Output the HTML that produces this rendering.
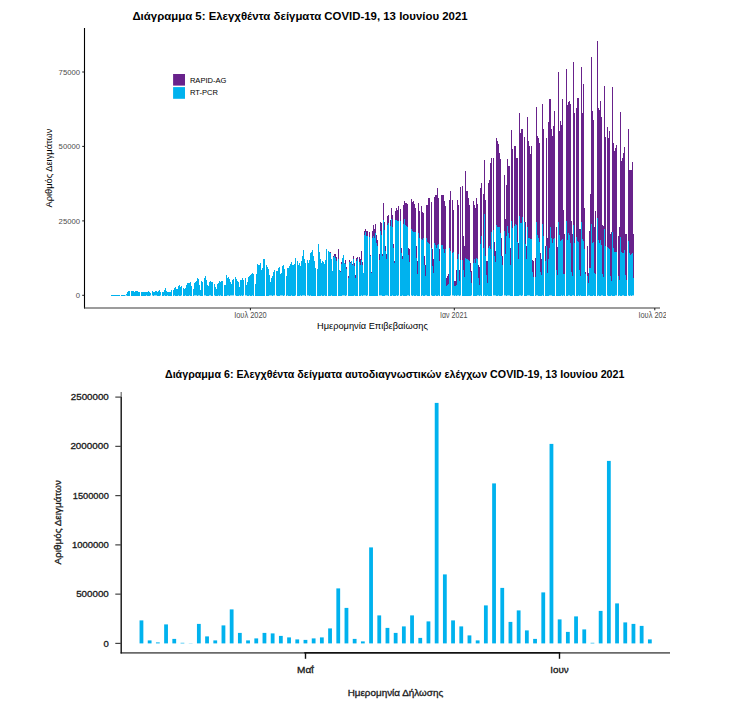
<!DOCTYPE html>
<html><head><meta charset="utf-8"><title>chart</title><style>html,body{margin:0;padding:0;background:#fff}svg{display:block}</style></head><body>
<svg width="737" height="710" viewBox="0 0 737 710">
<rect width="737" height="710" fill="#fff"/>
<text x="300" y="20.2" text-anchor="middle" font-size="11.42" font-weight="700" fill="#000" font-family="Liberation Sans, sans-serif">Διάγραμμα 5: Ελεγχθέντα δείγματα COVID-19, 13 Ιουνίου 2021</text>
<g shape-rendering="crispEdges"><path d="M111 295h1V296h-1zM112 295h1V296h-1zM113 295h1V296h-1zM114 295h1V296h-1zM115 295h1V296h-1zM116 295h1V296h-1zM117 295h1V296h-1zM118 295h1V296h-1zM119 295h1V296h-1zM121 295h1V296h-1zM122 295h1V296h-1zM123 295h1V296h-1zM124 295h1V296h-1zM125 295h1V296h-1zM126 294h1V296h-1zM127 292h1V296h-1zM128 291h1V296h-1zM129 291h1V296h-1zM131 291h1V296h-1zM132 291h1V296h-1zM133 291h1V296h-1zM134 292h1V296h-1zM135 291h1V296h-1zM136 291h1V296h-1zM137 291h1V296h-1zM138 292h1V296h-1zM139 292h1V296h-1zM141 292h1V296h-1zM142 292h1V296h-1zM143 292h1V296h-1zM144 292h1V296h-1zM145 292h1V296h-1zM146 292h1V296h-1zM147 292h1V296h-1zM148 291h1V296h-1zM149 292h1V296h-1zM150 293h1V296h-1zM152 291h1V296h-1zM153 292h1V296h-1zM154 292h1V296h-1zM155 291h1V296h-1zM156 291h1V296h-1zM157 292h1V296h-1zM158 291h1V296h-1zM159 290h1V296h-1zM160 292h1V296h-1zM162 292h1V296h-1zM163 292h1V296h-1zM164 290h1V296h-1zM165 288h1V296h-1zM166 291h1V296h-1zM167 292h1V296h-1zM168 292h1V296h-1zM169 292h1V296h-1zM170 292h1V296h-1zM171 290h1V296h-1zM173 290h1V296h-1zM174 288h1V296h-1zM175 287h1V296h-1zM176 289h1V296h-1zM177 289h1V296h-1zM178 286h1V296h-1zM179 285h1V296h-1zM180 287h1V296h-1zM181 286h1V296h-1zM183 288h1V296h-1zM184 289h1V296h-1zM185 288h1V296h-1zM186 285h1V296h-1zM187 283h1V296h-1zM188 283h1V296h-1zM189 283h1V296h-1zM190 282h1V296h-1zM191 286h1V296h-1zM193 289h1V296h-1zM194 283h1V296h-1zM195 282h1V296h-1zM196 281h1V296h-1zM197 278h1V296h-1zM198 279h1V296h-1zM199 285h1V296h-1zM200 290h1V296h-1zM201 281h1V296h-1zM202 282h1V296h-1zM204 278h1V296h-1zM205 276h1V296h-1zM206 280h1V296h-1zM207 285h1V296h-1zM208 286h1V296h-1zM209 282h1V296h-1zM210 281h1V296h-1zM211 282h1V296h-1zM212 282h1V296h-1zM214 284h1V296h-1zM215 287h1V296h-1zM216 289h1V296h-1zM217 284h1V296h-1zM218 283h1V296h-1zM219 281h1V296h-1zM220 282h1V296h-1zM221 281h1V296h-1zM222 281h1V296h-1zM224 285h1V296h-1zM225 285h1V296h-1zM226 275h1V296h-1zM227 278h1V296h-1zM228 277h1V296h-1zM229 279h1V296h-1zM230 282h1V296h-1zM231 284h1V296h-1zM232 280h1V296h-1zM233 279h1V296h-1zM235 277h1V296h-1zM236 279h1V296h-1zM237 281h1V296h-1zM238 282h1V296h-1zM239 287h1V296h-1zM240 280h1V296h-1zM241 280h1V296h-1zM242 278h1V296h-1zM243 280h1V296h-1zM245 278h1V296h-1zM246 285h1V296h-1zM247 282h1V296h-1zM248 277h1V296h-1zM249 276h1V296h-1zM250 275h1V296h-1zM251 274h1V296h-1zM252 273h1V296h-1zM253 274h1V296h-1zM255 284h1V296h-1zM256 274h1V296h-1zM257 264h1V296h-1zM258 265h1V296h-1zM259 265h1V296h-1zM260 263h1V296h-1zM261 270h1V296h-1zM262 268h1V296h-1zM263 259h1V296h-1zM264 259h1V296h-1zM266 265h1V296h-1zM267 267h1V296h-1zM268 269h1V296h-1zM269 275h1V296h-1zM270 282h1V296h-1zM271 278h1V296h-1zM272 276h1V296h-1zM273 272h1V296h-1zM274 270h1V296h-1zM276 271h1V296h-1zM277 271h1V296h-1zM278 268h1V296h-1zM279 267h1V296h-1zM280 274h1V296h-1zM281 273h1V296h-1zM282 266h1V296h-1zM283 265h1V296h-1zM284 269h1V296h-1zM286 276h1V296h-1zM287 268h1V296h-1zM288 268h1V296h-1zM289 266h1V296h-1zM290 264h1V296h-1zM291 262h1V296h-1zM292 265h1V296h-1zM293 265h1V296h-1zM294 264h1V296h-1zM295 258h1V296h-1zM297 261h1V296h-1zM298 265h1V296h-1zM299 263h1V296h-1zM300 266h1V296h-1zM301 261h1V296h-1zM302 256h1V296h-1zM303 250h1V296h-1zM304 259h1V296h-1zM305 263h1V296h-1zM307 260h1V296h-1zM308 263h1V296h-1zM309 260h1V296h-1zM310 253h1V296h-1zM311 252h1V296h-1zM312 250h1V296h-1zM313 256h1V296h-1zM314 261h1V296h-1zM315 268h1V296h-1zM317 269h1V296h-1zM318 244h1V296h-1zM319 252h1V296h-1zM320 259h1V296h-1zM321 263h1V296h-1zM322 261h1V296h-1zM323 262h1V296h-1zM324 264h1V296h-1zM325 260h1V296h-1zM326 249h1V296h-1zM328 251h1V296h-1zM329 252h1V296h-1zM330 253h1V296h-1zM331 259h1V296h-1zM332 271h1V296h-1zM333 257h1V296h-1zM334 256h1V296h-1zM335 258h1V296h-1zM336 261h1V296h-1zM338 259h1V296h-1zM339 270h1V296h-1zM340 272h1V296h-1zM341 264h1V296h-1zM342 258h1V296h-1zM343 255h1V296h-1zM344 263h1V296h-1zM345 264h1V296h-1zM346 269h1V296h-1zM348 278h1V296h-1zM349 262h1V296h-1zM350 263h1V296h-1zM351 261h1V296h-1zM352 265h1V296h-1zM353 259h1V296h-1zM354 266h1V296h-1zM355 278h1V296h-1zM356 261h1V296h-1zM357 259h1V296h-1zM359 262h1V296h-1zM360 265h1V296h-1zM361 260h1V296h-1zM362 265h1V296h-1zM363 273h1V296h-1zM364 235h1V296h-1zM365 232h1V296h-1zM366 236h1V296h-1zM367 236h1V296h-1zM369 237h1V296h-1zM370 256h1V296h-1zM371 273h1V296h-1zM372 238h1V296h-1zM373 236h1V296h-1zM374 238h1V296h-1zM375 233h1V296h-1zM376 243h1V296h-1zM377 246h1V296h-1zM379 260h1V296h-1zM380 231h1V296h-1zM381 235h1V296h-1zM382 256h1V296h-1zM383 220h1V296h-1zM384 230h1V296h-1zM385 251h1V296h-1zM386 259h1V296h-1zM387 225h1V296h-1zM388 223h1V296h-1zM390 226h1V296h-1zM391 219h1V296h-1zM392 227h1V296h-1zM393 248h1V296h-1zM394 263h1V296h-1zM395 220h1V296h-1zM396 220h1V296h-1zM397 221h1V296h-1zM398 221h1V296h-1zM400 221h1V296h-1zM401 253h1V296h-1zM402 259h1V296h-1zM403 224h1V296h-1zM404 219h1V296h-1zM405 225h1V296h-1zM406 226h1V296h-1zM407 227h1V296h-1zM408 255h1V296h-1zM409 262h1V296h-1zM411 229h1V296h-1zM412 231h1V296h-1zM413 232h1V296h-1zM414 232h1V296h-1zM415 232h1V296h-1zM416 258h1V296h-1zM417 274h1V296h-1zM418 233h1V296h-1zM419 238h1V296h-1zM421 239h1V296h-1zM422 240h1V296h-1zM423 238h1V296h-1zM424 265h1V296h-1zM425 276h1V296h-1zM426 238h1V296h-1zM427 242h1V296h-1zM428 243h1V296h-1zM429 244h1V296h-1zM431 248h1V296h-1zM432 266h1V296h-1zM433 273h1V296h-1zM434 243h1V296h-1zM435 245h1V296h-1zM436 248h1V296h-1zM437 245h1V296h-1zM438 244h1V296h-1zM439 261h1V296h-1zM441 245h1V296h-1zM442 245h1V296h-1zM443 249h1V296h-1zM444 253h1V296h-1zM445 249h1V296h-1zM446 286h1V296h-1zM447 285h1V296h-1zM448 284h1V296h-1zM449 248h1V296h-1zM450 251h1V296h-1zM452 253h1V296h-1zM453 252h1V296h-1zM454 286h1V296h-1zM455 286h1V296h-1zM456 285h1V296h-1zM457 259h1V296h-1zM458 254h1V296h-1zM459 281h1V296h-1zM460 260h1V296h-1zM462 260h1V296h-1zM463 270h1V296h-1zM464 277h1V296h-1zM465 258h1V296h-1zM466 259h1V296h-1zM467 259h1V296h-1zM468 260h1V296h-1zM469 261h1V296h-1zM470 272h1V296h-1zM471 283h1V296h-1zM473 263h1V296h-1zM474 259h1V296h-1zM475 263h1V296h-1zM476 258h1V296h-1zM477 259h1V296h-1zM478 278h1V296h-1zM479 285h1V296h-1zM480 244h1V296h-1zM481 236h1V296h-1zM483 248h1V296h-1zM484 214h1V296h-1zM485 256h1V296h-1zM486 275h1V296h-1zM487 283h1V296h-1zM488 248h1V296h-1zM489 246h1V296h-1zM490 249h1V296h-1zM491 232h1V296h-1zM493 230h1V296h-1zM494 256h1V296h-1zM495 262h1V296h-1zM496 225h1V296h-1zM497 227h1V296h-1zM498 227h1V296h-1zM499 227h1V296h-1zM500 233h1V296h-1zM501 256h1V296h-1zM502 265h1V296h-1zM504 231h1V296h-1zM505 254h1V296h-1zM506 236h1V296h-1zM507 226h1V296h-1zM508 233h1V296h-1zM509 238h1V296h-1zM510 265h1V296h-1zM511 221h1V296h-1zM512 228h1V296h-1zM514 226h1V296h-1zM515 224h1V296h-1zM516 225h1V296h-1zM517 242h1V296h-1zM518 259h1V296h-1zM519 216h1V296h-1zM520 223h1V296h-1zM521 223h1V296h-1zM522 217h1V296h-1zM524 222h1V296h-1zM525 244h1V296h-1zM526 259h1V296h-1zM527 227h1V296h-1zM528 238h1V296h-1zM529 238h1V296h-1zM530 239h1V296h-1zM531 239h1V296h-1zM532 272h1V296h-1zM533 277h1V296h-1zM535 277h1V296h-1zM536 222h1V296h-1zM537 235h1V296h-1zM538 238h1V296h-1zM539 242h1V296h-1zM540 272h1V296h-1zM541 275h1V296h-1zM542 224h1V296h-1zM543 236h1V296h-1zM545 261h1V296h-1zM546 246h1V296h-1zM547 273h1V296h-1zM548 259h1V296h-1zM549 248h1V296h-1zM550 227h1V296h-1zM551 238h1V296h-1zM552 243h1V296h-1zM553 239h1V296h-1zM554 238h1V296h-1zM556 270h1V296h-1zM557 275h1V296h-1zM558 222h1V296h-1zM559 235h1V296h-1zM560 241h1V296h-1zM561 240h1V296h-1zM562 239h1V296h-1zM563 274h1V296h-1zM564 274h1V296h-1zM566 221h1V296h-1zM567 240h1V296h-1zM568 233h1V296h-1zM569 235h1V296h-1zM570 243h1V296h-1zM571 272h1V296h-1zM572 276h1V296h-1zM573 225h1V296h-1zM574 243h1V296h-1zM576 237h1V296h-1zM577 241h1V296h-1zM578 242h1V296h-1zM579 270h1V296h-1zM580 276h1V296h-1zM581 222h1V296h-1zM582 239h1V296h-1zM583 241h1V296h-1zM584 249h1V296h-1zM585 274h1V296h-1zM587 276h1V296h-1zM588 283h1V296h-1zM589 268h1V296h-1zM590 268h1V296h-1zM591 224h1V296h-1zM592 243h1V296h-1zM593 242h1V296h-1zM594 273h1V296h-1zM595 274h1V296h-1zM597 218h1V296h-1zM598 240h1V296h-1zM599 243h1V296h-1zM600 240h1V296h-1zM601 245h1V296h-1zM602 274h1V296h-1zM603 277h1V296h-1zM604 229h1V296h-1zM605 246h1V296h-1zM607 247h1V296h-1zM608 248h1V296h-1zM609 249h1V296h-1zM610 276h1V296h-1zM611 281h1V296h-1zM612 232h1V296h-1zM613 248h1V296h-1zM614 252h1V296h-1zM615 252h1V296h-1zM616 252h1V296h-1zM618 276h1V296h-1zM619 280h1V296h-1zM620 237h1V296h-1zM621 252h1V296h-1zM622 253h1V296h-1zM623 253h1V296h-1zM624 250h1V296h-1zM625 275h1V296h-1zM626 280h1V296h-1zM628 241h1V296h-1zM629 253h1V296h-1zM630 255h1V296h-1zM631 254h1V296h-1zM632 253h1V296h-1zM633 278h1V296h-1z" fill="#00B2EE"/><path d="M330 252h1V253h-1zM333 256h1V257h-1zM334 254h1V256h-1zM335 254h1V258h-1zM336 257h1V261h-1zM338 249h1V259h-1zM340 271h1V272h-1zM341 262h1V264h-1zM345 260h1V264h-1zM346 267h1V269h-1zM348 276h1V278h-1zM349 260h1V262h-1zM350 262h1V263h-1zM352 264h1V265h-1zM353 256h1V259h-1zM354 263h1V266h-1zM355 275h1V278h-1zM356 258h1V261h-1zM357 257h1V259h-1zM359 257h1V262h-1zM360 259h1V265h-1zM361 251h1V260h-1zM362 262h1V265h-1zM364 231h1V235h-1zM365 229h1V232h-1zM366 231h1V236h-1zM367 231h1V236h-1zM369 232h1V237h-1zM370 255h1V256h-1zM371 272h1V273h-1zM372 231h1V238h-1zM373 225h1V236h-1zM374 229h1V238h-1zM375 224h1V233h-1zM376 235h1V243h-1zM377 240h1V246h-1zM379 254h1V260h-1zM380 222h1V231h-1zM381 223h1V235h-1zM382 254h1V256h-1zM383 203h1V220h-1zM384 222h1V230h-1zM385 246h1V251h-1zM386 254h1V259h-1zM387 216h1V225h-1zM388 215h1V223h-1zM390 220h1V226h-1zM391 208h1V219h-1zM392 215h1V227h-1zM393 244h1V248h-1zM394 261h1V263h-1zM395 211h1V220h-1zM396 208h1V220h-1zM397 210h1V221h-1zM398 206h1V221h-1zM400 209h1V221h-1zM401 248h1V253h-1zM402 256h1V259h-1zM403 205h1V224h-1zM404 201h1V219h-1zM405 203h1V225h-1zM406 203h1V226h-1zM407 204h1V227h-1zM408 248h1V255h-1zM409 249h1V262h-1zM411 199h1V229h-1zM412 202h1V231h-1zM413 201h1V232h-1zM414 204h1V232h-1zM415 208h1V232h-1zM416 246h1V258h-1zM417 261h1V274h-1zM418 203h1V233h-1zM419 211h1V238h-1zM421 206h1V239h-1zM422 212h1V240h-1zM423 213h1V238h-1zM424 256h1V265h-1zM425 265h1V276h-1zM426 205h1V238h-1zM427 205h1V242h-1zM428 198h1V243h-1zM429 198h1V244h-1zM431 202h1V248h-1zM432 249h1V266h-1zM433 259h1V273h-1zM434 197h1V243h-1zM435 195h1V245h-1zM436 195h1V248h-1zM437 188h1V245h-1zM438 198h1V244h-1zM439 249h1V261h-1zM441 195h1V245h-1zM442 195h1V245h-1zM443 195h1V249h-1zM444 201h1V253h-1zM445 206h1V249h-1zM446 278h1V286h-1zM447 276h1V285h-1zM448 274h1V284h-1zM449 200h1V248h-1zM450 191h1V251h-1zM452 200h1V253h-1zM453 210h1V252h-1zM454 281h1V286h-1zM455 281h1V286h-1zM456 270h1V285h-1zM457 200h1V259h-1zM458 205h1V254h-1zM459 270h1V281h-1zM460 187h1V260h-1zM462 186h1V260h-1zM463 236h1V270h-1zM464 246h1V277h-1zM465 171h1V258h-1zM466 191h1V259h-1zM467 191h1V259h-1zM468 198h1V260h-1zM469 205h1V261h-1zM470 263h1V272h-1zM471 271h1V283h-1zM473 201h1V263h-1zM474 205h1V259h-1zM475 208h1V263h-1zM476 198h1V258h-1zM477 204h1V259h-1zM478 265h1V278h-1zM479 267h1V285h-1zM480 188h1V244h-1zM481 183h1V236h-1zM483 194h1V248h-1zM484 160h1V214h-1zM485 200h1V256h-1zM486 261h1V275h-1zM487 261h1V283h-1zM488 183h1V248h-1zM489 180h1V246h-1zM490 163h1V249h-1zM491 158h1V232h-1zM493 158h1V230h-1zM494 242h1V256h-1zM495 251h1V262h-1zM496 138h1V225h-1zM497 141h1V227h-1zM498 144h1V227h-1zM499 153h1V227h-1zM500 159h1V233h-1zM501 238h1V256h-1zM502 256h1V265h-1zM504 175h1V231h-1zM505 219h1V254h-1zM506 185h1V236h-1zM507 159h1V226h-1zM508 166h1V233h-1zM509 166h1V238h-1zM510 248h1V265h-1zM511 130h1V221h-1zM512 149h1V228h-1zM514 146h1V226h-1zM515 146h1V224h-1zM516 158h1V225h-1zM517 158h1V242h-1zM518 243h1V259h-1zM519 113h1V216h-1zM520 133h1V223h-1zM521 129h1V223h-1zM522 129h1V217h-1zM524 137h1V222h-1zM525 222h1V244h-1zM526 246h1V259h-1zM527 117h1V227h-1zM528 141h1V238h-1zM529 146h1V238h-1zM530 154h1V239h-1zM531 146h1V239h-1zM532 260h1V272h-1zM533 261h1V277h-1zM535 258h1V277h-1zM536 107h1V222h-1zM537 136h1V235h-1zM538 138h1V238h-1zM539 143h1V242h-1zM540 253h1V272h-1zM541 259h1V275h-1zM542 104h1V224h-1zM543 129h1V236h-1zM545 246h1V261h-1zM546 138h1V246h-1zM547 238h1V273h-1zM548 122h1V259h-1zM549 99h1V248h-1zM550 99h1V227h-1zM551 129h1V238h-1zM552 136h1V243h-1zM553 126h1V239h-1zM554 111h1V238h-1zM556 227h1V270h-1zM557 247h1V275h-1zM558 72h1V222h-1zM559 131h1V235h-1zM560 121h1V241h-1zM561 125h1V240h-1zM562 99h1V239h-1zM563 210h1V274h-1zM564 234h1V274h-1zM566 69h1V221h-1zM567 105h1V240h-1zM568 102h1V233h-1zM569 101h1V235h-1zM570 104h1V243h-1zM571 221h1V272h-1zM572 234h1V276h-1zM573 62h1V225h-1zM574 113h1V243h-1zM576 108h1V237h-1zM577 98h1V241h-1zM578 98h1V242h-1zM579 229h1V270h-1zM580 229h1V276h-1zM581 67h1V222h-1zM582 113h1V239h-1zM583 84h1V241h-1zM584 208h1V249h-1zM585 272h1V274h-1zM587 246h1V276h-1zM588 273h1V283h-1zM589 231h1V268h-1zM590 194h1V268h-1zM591 57h1V224h-1zM592 111h1V243h-1zM593 120h1V242h-1zM594 227h1V273h-1zM595 211h1V274h-1zM597 41h1V218h-1zM598 108h1V240h-1zM599 110h1V243h-1zM600 101h1V240h-1zM601 117h1V245h-1zM602 225h1V274h-1zM603 226h1V277h-1zM604 86h1V229h-1zM605 137h1V246h-1zM607 127h1V247h-1zM608 138h1V248h-1zM609 131h1V249h-1zM610 234h1V276h-1zM611 232h1V281h-1zM612 87h1V232h-1zM613 143h1V248h-1zM614 151h1V252h-1zM615 148h1V252h-1zM616 145h1V252h-1zM618 236h1V276h-1zM619 227h1V280h-1zM620 112h1V237h-1zM621 161h1V252h-1zM622 158h1V253h-1zM623 153h1V253h-1zM624 147h1V250h-1zM625 234h1V275h-1zM626 234h1V280h-1zM628 129h1V241h-1zM629 170h1V253h-1zM630 170h1V255h-1zM631 170h1V254h-1zM632 162h1V253h-1zM633 234h1V278h-1z" fill="#68228B"/><path d="M125 295h1v1h-1zM126 295h1v1h-1zM146 295h1v1h-1zM150 295h1v1h-1zM152 295h1v1h-1zM154 295h1v1h-1zM155 295h1v1h-1zM156 295h1v1h-1zM160 295h1v1h-1zM164 295h1v1h-1zM167 295h1v1h-1zM174 295h1v1h-1zM178 295h1v1h-1zM181 295h1v1h-1zM185 295h1v1h-1zM189 295h1v1h-1zM194 295h1v1h-1zM195 295h1v1h-1zM196 295h1v1h-1zM198 295h1v1h-1zM199 295h1v1h-1zM204 295h1v1h-1zM205 295h1v1h-1zM209 295h1v1h-1zM210 295h1v1h-1zM214 295h1v1h-1zM218 295h1v1h-1zM220 295h1v1h-1zM227 295h1v1h-1zM228 295h1v1h-1zM230 295h1v1h-1zM231 295h1v1h-1zM232 295h1v1h-1zM233 295h1v1h-1zM235 295h1v1h-1zM239 295h1v1h-1zM241 295h1v1h-1zM243 295h1v1h-1zM245 295h1v1h-1zM246 295h1v1h-1zM249 295h1v1h-1zM252 295h1v1h-1zM269 295h1v1h-1zM270 295h1v1h-1zM271 295h1v1h-1zM273 295h1v1h-1zM274 295h1v1h-1zM276 295h1v1h-1zM280 295h1v1h-1zM281 295h1v1h-1zM282 295h1v1h-1zM284 295h1v1h-1zM287 295h1v1h-1zM291 295h1v1h-1zM295 295h1v1h-1zM300 295h1v1h-1zM302 295h1v1h-1zM303 295h1v1h-1zM304 295h1v1h-1zM307 295h1v1h-1zM308 295h1v1h-1zM310 295h1v1h-1zM321 295h1v1h-1zM324 295h1v1h-1zM331 295h1v1h-1zM342 295h1v1h-1zM343 295h1v1h-1zM344 295h1v1h-1zM346 295h1v1h-1zM354 295h1v1h-1zM361 295h1v1h-1zM363 295h1v1h-1zM364 295h1v1h-1zM365 295h1v1h-1zM367 295h1v1h-1zM379 295h1v1h-1zM380 295h1v1h-1zM381 295h1v1h-1zM385 295h1v1h-1zM386 295h1v1h-1zM387 295h1v1h-1zM392 295h1v1h-1zM396 295h1v1h-1zM398 295h1v1h-1zM402 295h1v1h-1zM407 295h1v1h-1zM408 295h1v1h-1zM411 295h1v1h-1zM413 295h1v1h-1zM416 295h1v1h-1zM422 295h1v1h-1zM425 295h1v1h-1zM426 295h1v1h-1zM431 295h1v1h-1zM435 295h1v1h-1zM438 295h1v1h-1zM443 295h1v1h-1zM450 295h1v1h-1zM452 295h1v1h-1zM453 295h1v1h-1zM455 295h1v1h-1zM457 295h1v1h-1zM458 295h1v1h-1zM460 295h1v1h-1zM471 295h1v1h-1zM477 295h1v1h-1zM478 295h1v1h-1zM480 295h1v1h-1zM484 295h1v1h-1zM487 295h1v1h-1zM493 295h1v1h-1zM494 295h1v1h-1zM495 295h1v1h-1zM498 295h1v1h-1zM502 295h1v1h-1zM504 295h1v1h-1zM505 295h1v1h-1zM507 295h1v1h-1zM508 295h1v1h-1zM509 295h1v1h-1zM519 295h1v1h-1zM520 295h1v1h-1zM522 295h1v1h-1zM527 295h1v1h-1zM528 295h1v1h-1zM529 295h1v1h-1zM536 295h1v1h-1zM537 295h1v1h-1zM542 295h1v1h-1zM549 295h1v1h-1zM550 295h1v1h-1zM551 295h1v1h-1zM561 295h1v1h-1zM563 295h1v1h-1zM568 295h1v1h-1zM569 295h1v1h-1zM572 295h1v1h-1zM573 295h1v1h-1zM578 295h1v1h-1zM580 295h1v1h-1zM588 295h1v1h-1zM589 295h1v1h-1zM593 295h1v1h-1zM598 295h1v1h-1zM601 295h1v1h-1zM602 295h1v1h-1zM607 295h1v1h-1zM611 295h1v1h-1zM615 295h1v1h-1zM616 295h1v1h-1zM619 295h1v1h-1zM622 295h1v1h-1zM623 295h1v1h-1zM628 295h1v1h-1zM630 295h1v1h-1zM632 295h1v1h-1zM633 295h1v1h-1z" fill="#fff" fill-opacity="0.55"/></g>
<g stroke="#000" stroke-width="1.1" fill="none">
<path d="M84.5 28V308.5"/><path d="M84 308H660" stroke="#3a3a3a"/>
</g>
<g stroke="#1a1a1a" stroke-width="1" fill="none">
<path d="M82.2 72H84.5"/>
<path d="M82.2 146.4H84.5"/>
<path d="M82.2 220.9H84.5"/>
<path d="M82.2 295.3H84.5"/>
<path d="M250.4 308V310.3"/>
<path d="M454.3 308V310.3"/>
<path d="M654.8 308V310.3"/>
</g>
<g font-size="7.7" fill="#4d4d4d" text-anchor="end" font-family="Liberation Sans, sans-serif">
<text x="80" y="74.8">75000</text>
<text x="80" y="149.20000000000002">50000</text>
<text x="80" y="223.70000000000002">25000</text>
<text x="80" y="298.1">0</text>
</g>
<g font-size="8.3" fill="#4d4d4d" text-anchor="middle" font-family="Liberation Sans, sans-serif">
<text x="250.4" y="318.3" textLength="32.5" lengthAdjust="spacingAndGlyphs">Ιουλ 2020</text><text x="453.7" y="318.3" textLength="27.3" lengthAdjust="spacingAndGlyphs">Ιαν 2021</text>
</g>
<svg x="0" y="300" width="666" height="30" viewBox="0 300 666 30">
<text x="638.4" y="318.3" font-size="8.3" fill="#4d4d4d" textLength="32.5" lengthAdjust="spacingAndGlyphs" font-family="Liberation Sans, sans-serif">Ιουλ 2021</text>
</svg>
<text x="372.5" y="329" text-anchor="middle" font-size="9.26" fill="#000" font-family="Liberation Sans, sans-serif">Ημερομηνία Επιβεβαίωσης</text>
<text transform="translate(51.6 168) rotate(-90)" text-anchor="middle" font-size="9.27" fill="#000" font-family="Liberation Sans, sans-serif">Αριθμός Δειγμάτων</text>
<rect x="173.1" y="74" width="11.9" height="11.6" fill="#68228B"/><rect x="173.1" y="87.1" width="11.9" height="11.7" fill="#00B2EE"/>
<g font-size="7.57" fill="#000" font-family="Liberation Sans, sans-serif"><text x="189.9" y="82.8">RAPID-AG</text><text x="189.9" y="94.8">RT-PCR</text></g>
<text x="394.7" y="378" text-anchor="middle" font-size="11.2" font-weight="700" fill="#000" textLength="459.5" lengthAdjust="spacingAndGlyphs" font-family="Liberation Sans, sans-serif">Διάγραμμα 6: Ελεγχθέντα δείγματα αυτοδιαγνωστικών ελέγχων COVID-19, 13 Ιουνίου 2021</text>
<g fill="#00B2EE"><rect x="139.55" y="620.40" width="3.8" height="23.00"/><rect x="147.75" y="640.40" width="3.8" height="3.00"/><rect x="155.95" y="642.40" width="3.8" height="1.00"/><rect x="164.15" y="624.40" width="3.8" height="19.00"/><rect x="172.35" y="638.90" width="3.8" height="4.50"/><rect x="180.55" y="642.80" width="3.8" height="0.60"/><rect x="188.75" y="643.20" width="3.8" height="0.20"/><rect x="196.95" y="623.90" width="3.8" height="19.50"/><rect x="205.15" y="636.40" width="3.8" height="7.00"/><rect x="213.35" y="640.40" width="3.8" height="3.00"/><rect x="221.55" y="625.40" width="3.8" height="18.00"/><rect x="229.75" y="609.40" width="3.8" height="34.00"/><rect x="237.95" y="632.90" width="3.8" height="10.50"/><rect x="246.15" y="640.40" width="3.8" height="3.00"/><rect x="254.35" y="638.40" width="3.8" height="5.00"/><rect x="262.55" y="632.90" width="3.8" height="10.50"/><rect x="270.75" y="633.40" width="3.8" height="10.00"/><rect x="278.95" y="635.90" width="3.8" height="7.50"/><rect x="287.15" y="637.40" width="3.8" height="6.00"/><rect x="295.35" y="639.40" width="3.8" height="4.00"/><rect x="303.55" y="639.90" width="3.8" height="3.50"/><rect x="311.75" y="638.40" width="3.8" height="5.00"/><rect x="319.95" y="637.40" width="3.8" height="6.00"/><rect x="328.15" y="628.40" width="3.8" height="15.00"/><rect x="336.35" y="588.40" width="3.8" height="55.00"/><rect x="344.55" y="607.90" width="3.8" height="35.50"/><rect x="352.75" y="638.90" width="3.8" height="4.50"/><rect x="360.95" y="641.40" width="3.8" height="2.00"/><rect x="369.15" y="547.40" width="3.8" height="96.00"/><rect x="377.35" y="615.40" width="3.8" height="28.00"/><rect x="385.55" y="627.90" width="3.8" height="15.50"/><rect x="393.75" y="632.90" width="3.8" height="10.50"/><rect x="401.95" y="626.40" width="3.8" height="17.00"/><rect x="410.15" y="615.40" width="3.8" height="28.00"/><rect x="418.35" y="637.90" width="3.8" height="5.50"/><rect x="426.55" y="621.40" width="3.8" height="22.00"/><rect x="434.75" y="402.90" width="3.8" height="240.50"/><rect x="442.95" y="574.40" width="3.8" height="69.00"/><rect x="451.15" y="620.40" width="3.8" height="23.00"/><rect x="459.35" y="626.40" width="3.8" height="17.00"/><rect x="467.55" y="635.40" width="3.8" height="8.00"/><rect x="475.75" y="640.40" width="3.8" height="3.00"/><rect x="483.95" y="605.40" width="3.8" height="38.00"/><rect x="492.15" y="483.40" width="3.8" height="160.00"/><rect x="500.35" y="587.90" width="3.8" height="55.50"/><rect x="508.55" y="621.90" width="3.8" height="21.50"/><rect x="516.75" y="610.40" width="3.8" height="33.00"/><rect x="524.95" y="630.40" width="3.8" height="13.00"/><rect x="533.15" y="638.90" width="3.8" height="4.50"/><rect x="541.35" y="592.40" width="3.8" height="51.00"/><rect x="549.55" y="443.90" width="3.8" height="199.50"/><rect x="557.75" y="619.40" width="3.8" height="24.00"/><rect x="565.95" y="631.90" width="3.8" height="11.50"/><rect x="574.15" y="616.40" width="3.8" height="27.00"/><rect x="582.35" y="629.40" width="3.8" height="14.00"/><rect x="590.55" y="642.80" width="3.8" height="0.60"/><rect x="598.75" y="610.90" width="3.8" height="32.50"/><rect x="606.95" y="460.90" width="3.8" height="182.50"/><rect x="615.15" y="603.40" width="3.8" height="40.00"/><rect x="623.35" y="622.40" width="3.8" height="21.00"/><rect x="631.55" y="623.90" width="3.8" height="19.50"/><rect x="639.75" y="625.90" width="3.8" height="17.50"/><rect x="647.95" y="639.40" width="3.8" height="4.00"/></g>
<g fill="none">
<path d="M120.6 652.8H670" stroke="#6a6a6a" stroke-width="1.7"/>
<path d="M121.2 392V397.2" stroke="#6b6b6b" stroke-width="1.2"/>
<path d="M121.2 397.1V653.4" stroke="#111" stroke-width="1.4"/>
<path d="M304.3 652.8H560.2" stroke="#111" stroke-width="1.6"/>
<g stroke="#444" stroke-width="1.2">
<path d="M115.3 397.1H121.2"/>
<path d="M115.3 446.36H121.2"/>
<path d="M115.3 495.62H121.2"/>
<path d="M115.3 544.88H121.2"/>
<path d="M115.3 594.14H121.2"/>
<path d="M115.3 643.4H121.2"/>
<path d="M305.5 652.8V658.8" stroke="#111" stroke-width="1.4"/>
<path d="M559.5 652.8V658.8" stroke="#111" stroke-width="1.4"/>
</g></g>
<g font-size="8.7" fill="#1a1a1a" stroke="#1a1a1a" stroke-width="0.3" text-anchor="end" font-family="Liberation Sans, sans-serif">
<text x="108.8" y="400.20000000000005" textLength="38" lengthAdjust="spacingAndGlyphs">2500000</text>
<text x="108.8" y="449.46000000000004" textLength="38.4" lengthAdjust="spacingAndGlyphs">2000000</text>
<text x="108.8" y="498.72" textLength="36" lengthAdjust="spacingAndGlyphs">1500000</text>
<text x="108.8" y="547.98" textLength="36.9" lengthAdjust="spacingAndGlyphs">1000000</text>
<text x="108.8" y="597.24" textLength="32.6" lengthAdjust="spacingAndGlyphs">500000</text>
<text x="108.8" y="646.5" textLength="5.3" lengthAdjust="spacingAndGlyphs">0</text>
</g>
<g font-size="9.8" fill="#1a1a1a" stroke="#1a1a1a" stroke-width="0.32" text-anchor="middle" font-family="Liberation Sans, sans-serif">
<text x="305.3" y="673.2" textLength="16.4" lengthAdjust="spacingAndGlyphs">Μαΐ</text><text x="559.5" y="673.2" textLength="18.6" lengthAdjust="spacingAndGlyphs">Ιουν</text>
<text x="395.4" y="696.3" textLength="95.5" lengthAdjust="spacingAndGlyphs">Ημερομηνία Δήλωσης</text>
<text transform="translate(60.7 522.3) rotate(-90)" textLength="84.6" lengthAdjust="spacingAndGlyphs">Αριθμός Δειγμάτων</text>
</g>
</svg>
</body></html>
